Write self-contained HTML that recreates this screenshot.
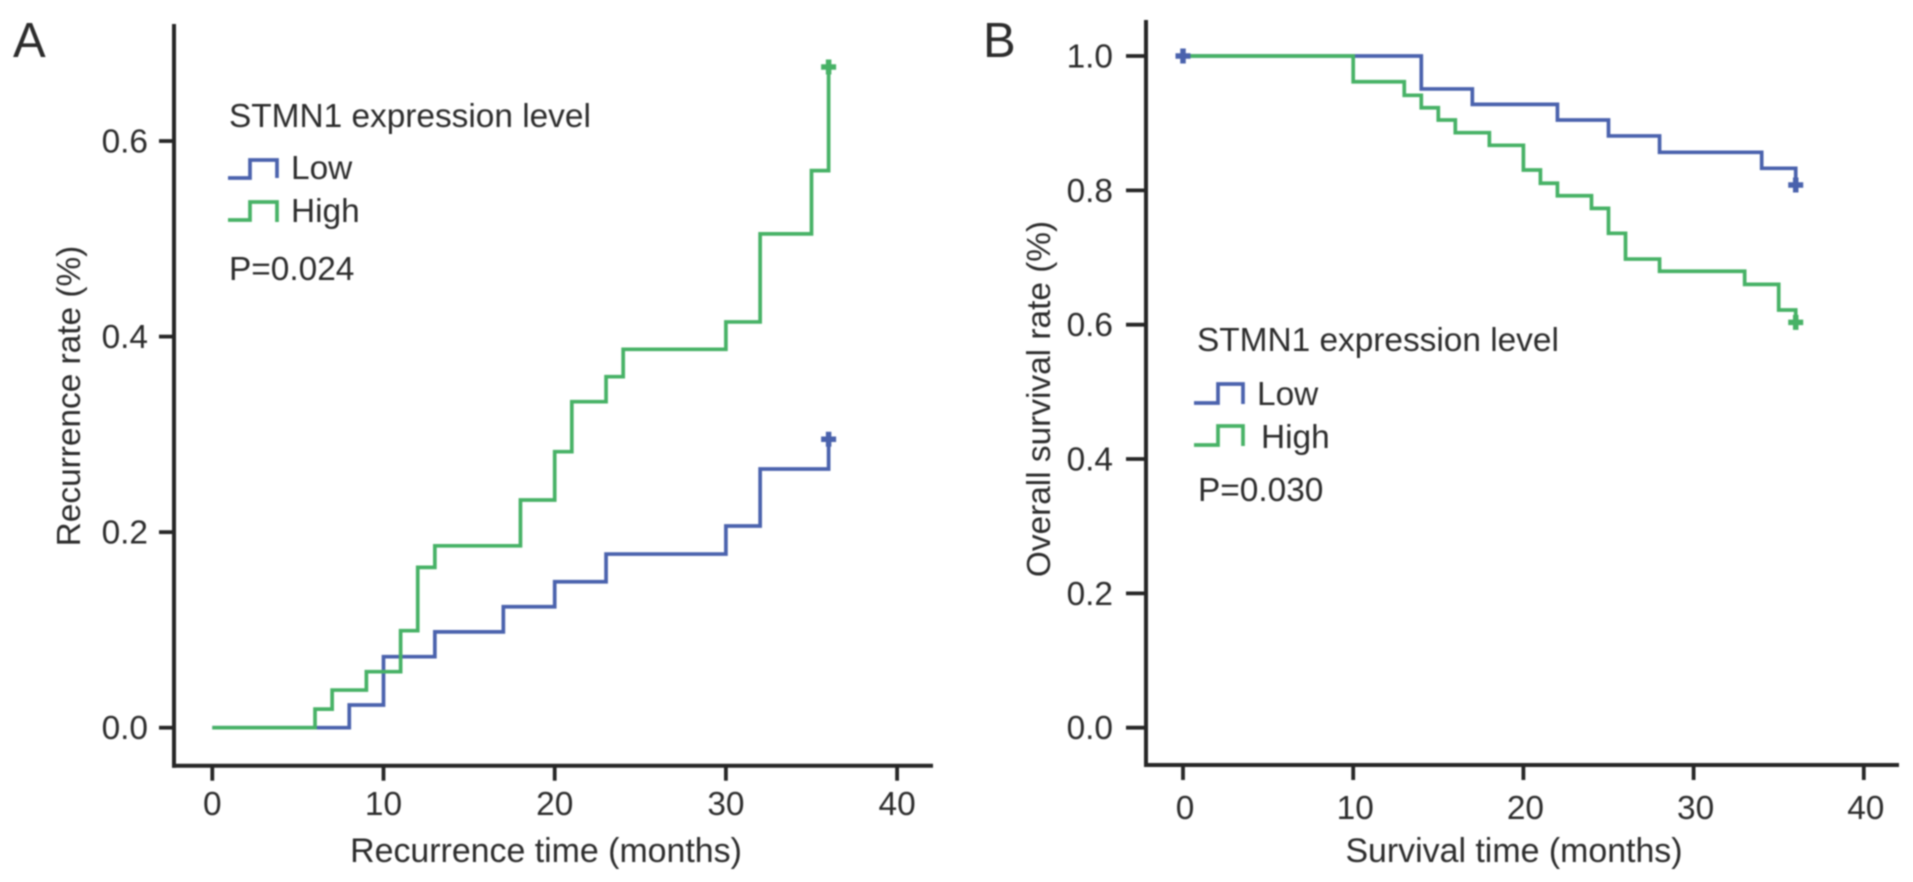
<!DOCTYPE html>
<html lang="en">
<head>
<meta charset="utf-8">
<title>STMN1 recurrence and survival curves</title>
<style>
html,body{margin:0;padding:0;background:#fff;width:1913px;height:882px;overflow:hidden}
svg{display:block;filter:blur(0.7px)}
text{font-family:"Liberation Sans",sans-serif;font-size:33.4px;fill:#2c2c2c}
.ax{stroke:#262626;stroke-width:4;fill:none;stroke-linecap:square}
.tk{stroke:#262626;stroke-width:3.8;fill:none}
.ln{fill:none;stroke-width:3.7;stroke-linejoin:miter}
.low{stroke:#4a62ad}
.high{stroke:#47b266}
.mk{fill:none;stroke-width:5.5}
</style>
</head>
<body>
<svg id="fig" xmlns="http://www.w3.org/2000/svg" width="1913" height="882" viewBox="0 0 1913 882">
  <rect width="1913" height="882" fill="#fff"/>

  <text x="13" y="57" style="font-size:49px">A</text>
  <text x="983" y="57" style="font-size:49px">B</text>

  <g id="chart-a"></g>
  <g id="chart-b"></g>

  <g>
    <text x="229" y="127">STMN1 expression level</text>
    <path class="ln low" d="M228 178H250V160H277V178"/>
    <text x="291" y="179">Low</text>
    <path class="ln high" d="M228 220H250V202H277V222"/>
    <text x="291" y="222">High</text>
    <text x="229" y="280">P=0.024</text>
  </g>

  <g>
    <text x="1197" y="351">STMN1 expression level</text>
    <path class="ln low" d="M1194 403H1218V384H1243V404"/>
    <text x="1257" y="405">Low</text>
    <path class="ln high" d="M1194 445H1218V426H1243V446"/>
    <text x="1261" y="448">High</text>
    <text x="1198" y="501">P=0.030</text>
  </g>
</svg>

<script>
const xTicks = [0, 10, 20, 30, 40];
const yTicks = [0, 0.2, 0.4, 0.6];
const yTicksB = [0, 0.2, 0.4, 0.6, 0.8, 1.0];

const recurLowTime = [0, 8, 10, 13, 17, 20, 23, 30, 32, 36];
const recurLowRate = [0, 0.0232, 0.0726, 0.098, 0.1237, 0.1493, 0.1776, 0.2063, 0.2646, 0.295];
const recurHighTime = [0, 6, 7, 9, 11, 12, 13, 18, 20, 21, 23, 24, 30, 32, 35, 36];
const recurHighRate = [0, 0.019, 0.0385, 0.0573, 0.0992, 0.164, 0.186, 0.2329, 0.2823, 0.3334, 0.359, 0.387, 0.415, 0.505, 0.5697, 0.6757];

const survLowTime = [0, 14, 17, 22, 25, 28, 34, 36];
const survLowRate = [1, 0.951, 0.928, 0.9047, 0.881, 0.8566, 0.8328, 0.808];
const survHighTime = [0, 10, 13, 14, 15, 16, 18, 20, 21, 22, 24, 25, 26, 28, 33, 35, 36];
const survHighRate = [1, 0.9617, 0.9415, 0.923, 0.9047, 0.8858, 0.867, 0.8303, 0.8105, 0.792, 0.7732, 0.736, 0.6977, 0.6795, 0.66, 0.6218, 0.6035];

const NS = 'http://www.w3.org/2000/svg';

function add(parent, tag, attrs, txt) {
  const el = document.createElementNS(NS, tag);
  for (const k in attrs) el.setAttribute(k, attrs[k]);
  if (txt !== undefined) el.textContent = txt;
  parent.appendChild(el);
  return el;
}

function stepPath(times, rates, sx, sy) {
  let d = 'M' + sx(times[0]) + ' ' + sy(rates[0]);
  for (let i = 1; i < times.length; i++) {
    d += 'H' + sx(times[i]) + 'V' + sy(rates[i]);
  }
  return d;
}

function plus(x, y) {
  return 'M' + (x - 7.5) + ' ' + y + 'H' + (x + 7.5) + 'M' + x + ' ' + (y - 7.5) + 'V' + (y + 7.5);
}

function drawChart(root, c) {
  const sx = function (v) { return c.x0 + v * c.xs; };
  const sy = function (v) { return c.y0 - v * c.ys; };

  const yAxis = add(root, 'path', { class: 'ax', d: 'M' + c.axX + ' ' + c.top + 'V' + c.axY });
  
  
  const xAxis = add(root, 'path', { class: 'ax', d: 'M' + c.axX + ' ' + c.axY + 'H' + c.right });
  
  

  c.xTicks.forEach(function (t) {
    const tick = add(root, 'path', { class: 'tk', d: 'M' + sx(t) + ' ' + c.axY + 'V' + (c.axY + 15) });
    
    
    const lab = add(root, 'text', { x: sx(t) + c.xLabDx, y: c.xLabY, 'text-anchor': 'middle' }, String(t));
    
    
  });

  c.yTicks.forEach(function (t) {
    const tick = add(root, 'path', { class: 'tk', d: 'M' + c.tickX + ' ' + sy(t) + 'H' + c.axX });
    
    
    const lab = add(root, 'text', { x: c.yLabX, y: sy(t) + 11.5, 'text-anchor': 'end' }, t.toFixed(1));
    
    
  });

  const xt = add(root, 'text', { x: c.xTitleX, y: 862, 'text-anchor': 'middle', style: 'font-size:33.9px' }, c.xTitle);
  
  
  const yt = add(root, 'text', { transform: 'translate(' + c.yTitleX + ' ' + c.yTitleY + ') rotate(-90)', 'text-anchor': 'middle' }, c.yTitle);
  
  

  const lowLine = add(root, 'path', { class: 'ln low', d: stepPath(c.lowT, c.lowR, sx, sy) });
  
  
  const lowEnd = add(root, 'path', { class: 'mk low', d: plus(sx(c.lowT[c.lowT.length - 1]), sy(c.lowR[c.lowR.length - 1])) });
  
  

  const highLine = add(root, 'path', { class: 'ln high', d: stepPath(c.highT, c.highR, sx, sy) });
  
  
  const highEnd = add(root, 'path', { class: 'mk high', d: plus(sx(c.highT[c.highT.length - 1]), sy(c.highR[c.highR.length - 1])) });
  
  

  if (c.startMarker) {
    const st = add(root, 'path', { class: 'mk low', d: plus(sx(c.lowT[0]), sy(c.lowR[0])) });
    
    
  }
}

drawChart(document.getElementById('chart-a'), {
  x0: 212.3, xs: 17.12, y0: 727.7, ys: 977.8,
  axX: 174, axY: 765.7, top: 26, right: 931, tickX: 159, yLabX: 148, xLabY: 815, xLabDx: 0,
  xTicks: xTicks, yTicks: yTicks,
  xTitle: 'Recurrence time (months)', xTitleX: 546,
  yTitle: 'Recurrence rate (%)', yTitleX: 80, yTitleY: 396,
  lowT: recurLowTime, lowR: recurLowRate, highT: recurHighTime, highR: recurHighRate,
  startMarker: false
});

drawChart(document.getElementById('chart-b'), {
  x0: 1183, xs: 17.02, y0: 727.7, ys: 671.7,
  axX: 1146, axY: 765, top: 22, right: 1897, tickX: 1126, yLabX: 1113, xLabY: 819, xLabDx: 2,
  xTicks: xTicks, yTicks: yTicksB,
  xTitle: 'Survival time (months)', xTitleX: 1514,
  yTitle: 'Overall survival rate (%)', yTitleX: 1050, yTitleY: 399,
  lowT: survLowTime, lowR: survLowRate, highT: survHighTime, highR: survHighRate,
  startMarker: true
});
</script>
</body>
</html>
